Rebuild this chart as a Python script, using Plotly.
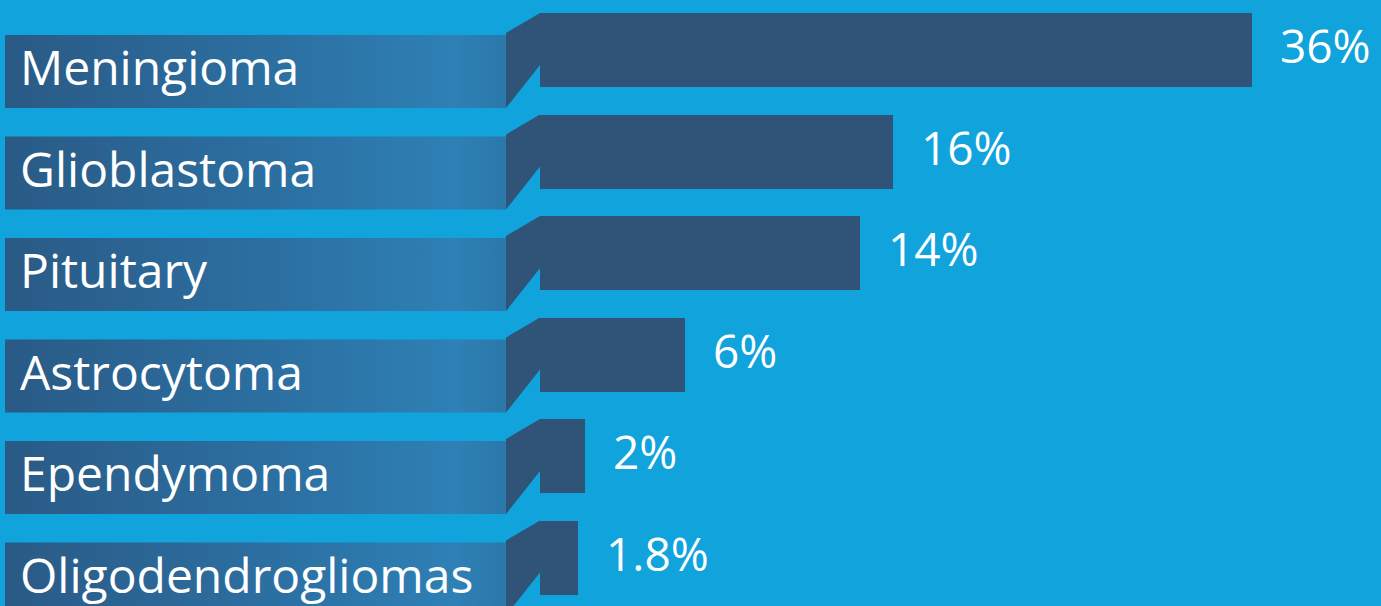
import plotly.graph_objects as go

# ---- data ----
categories = ["Meningioma", "Glioblastoma", "Pituitary", "Astrocytoma", "Ependymoma", "Oligodendrogliomas"]
values = [36, 16, 14, 6, 2, 1.8]
value_labels = ["36%", "16%", "14%", "6%", "2%", "1.8%"]
# visual bar lengths as drawn in the infographic (not to scale with the values)
bar_lengths = [712, 353, 320, 145, 45, 38]

# ---- styling / layout constants ----
W, H = 1381, 606
BG = "#10a3dc"
BAR = "#2f5478"
ROW0, ROW_STEP = 35, 101.5
BOX_H = 73
BOX_X0, BOX_X1 = 5, 506
FOLD_DX, FOLD_DY = 34, 22
BAR_H = 74

fig = go.Figure()

box_tops = [ROW0 + i * ROW_STEP for i in range(len(categories))]

for i, t in enumerate(box_tops):
    # label ribbon with horizontal gradient
    fig.add_trace(go.Scatter(
        x=[BOX_X0, BOX_X1, BOX_X1, BOX_X0, BOX_X0],
        y=[t, t, t + BOX_H, t + BOX_H, t],
        mode="lines", line=dict(width=0), fill="toself",
        fillgradient=dict(type="horizontal",
                          colorscale=[[0, "#2a5a86"], [0.6, "#2c72a5"], [0.9, "#2e80b5"], [1, "#2b78aa"]]),
        hoverinfo="skip", showlegend=False))
    # folded part
    fx0, fx1 = BOX_X1, BOX_X1 + FOLD_DX
    bt = t - FOLD_DY
    fig.add_trace(go.Scatter(
        x=[fx0, fx1, fx1, fx0, fx0],
        y=[t - 2, bt, bt + BAR_H - 22, t + BOX_H, t - 2],
        mode="lines", line=dict(width=0), fill="toself", fillcolor=BAR,
        hoverinfo="skip", showlegend=False))

bar_centers = [t - FOLD_DY + BAR_H / 2 for t in box_tops]
fig.add_trace(go.Bar(
    orientation="h",
    y=bar_centers,
    x=bar_lengths,
    base=[BOX_X1 + FOLD_DX] * len(bar_lengths),
    width=BAR_H,
    marker=dict(color=BAR, line=dict(width=0)),
    hoverinfo="skip", showlegend=False))

annotations = []
for i, t in enumerate(box_tops):
    annotations.append(dict(
        x=18, y=t + BOX_H / 2 - 5, xref="x", yref="y", text=categories[i],
        showarrow=False, xanchor="left", yanchor="middle",
        font=dict(family="Open Sans", size=48, color="white")))
    annotations.append(dict(
        x=BOX_X1 + FOLD_DX + bar_lengths[i], y=bar_centers[i] - 5, xref="x", yref="y",
        text=value_labels[i], showarrow=False, xanchor="left", yanchor="middle",
        xshift=26, font=dict(family="Open Sans", size=46, color="white")))

fig.update_layout(
    width=W, height=H,
    margin=dict(l=0, r=0, t=0, b=0),
    paper_bgcolor=BG, plot_bgcolor=BG,
    xaxis=dict(range=[0, W], visible=False, fixedrange=True),
    yaxis=dict(range=[H, 0], visible=False, fixedrange=True),
    annotations=annotations,
    bargap=0,
)

fig.write_html(
    "out.html",
    config={"displayModeBar": False},
    post_script="document.body.style.margin='0';document.body.style.background='" + BG + "';document.body.style.overflow='hidden';",
)
